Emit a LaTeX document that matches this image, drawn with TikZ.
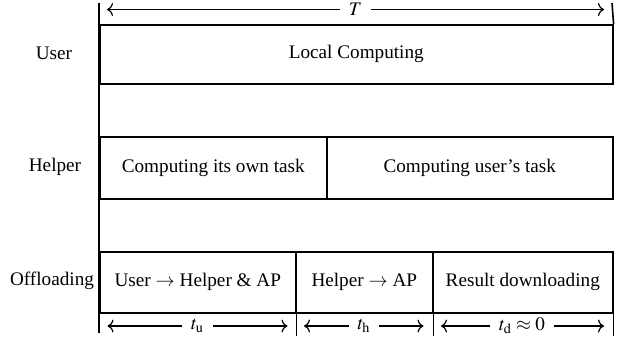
\documentclass[tikz,border=0pt]{standalone}
\usepackage{mathptmx}
\usepackage{fontspec}
\setmainfont{Liberation Serif}
\usetikzlibrary{arrows.meta}
\begin{document}
\begin{tikzpicture}[x=0.5pt,y=-0.5pt,line width=0.8pt,
  every node/.style={font=\fontsize{9.6}{11.5}\selectfont},
  box/.style={draw,anchor=north west,inner sep=0pt},
  rowlab/.style={inner sep=0pt},
  dimlab/.style={inner sep=4pt},
  dimarrow/.style={line width=0.6pt,-{Computer Modern Rightarrow[length=3pt,width=6.5pt]}}]
\useasboundingbox (0,0) rectangle (623,337);
% boxes
\node[box,minimum width=256.5pt,minimum height=29.5pt] (user) at (99,24) {Local Computing};
\node[box,minimum width=113.5pt,minimum height=31pt] (h1) at (99,136) {Computing its own task};
\node[box,minimum width=143pt,minimum height=31pt] (h2) at (326,136) {Computing user's task};
\node[box,minimum width=98pt,minimum height=30.5pt] (o1) at (99,251) {User $\rightarrow$ Helper \& AP};
\node[box,minimum width=68.5pt,minimum height=30.5pt] (o2) at (295,251) {Helper $\rightarrow$ AP};
\node[box,minimum width=90pt,minimum height=30.5pt] (o3) at (432,251) {Result downloading};
% row labels
\node[rowlab] (lu) at (54,53.5) {User};
\node[rowlab] (lh) at (55,167) {Helper};
\node[rowlab] (lo) at (52,281) {Offloading};
% ticks
\coordinate (topl) at (99,3);
\coordinate (botl) at (99,333);
\coordinate (topr) at (612,3);
\draw (topl) -- (botl);
\draw (topr) -- (user.north east);
\draw (o1.south east) -- ++(0,22);
\draw (o2.south east) -- ++(0,22);
\draw (o3.south east) -- ++(0,22);
% T dimension
\node[dimlab] (T) at (355.5,9.5) {$T$};
\coordinate (Tl) at (107,9.5);
\coordinate (Tr) at (604,9.5);
\draw[dimarrow] (T) -- (Tl);
\draw[dimarrow] (T) -- (Tr);
% bottom dimensions
\node[dimlab] (tu) at (197.5,326) {$t_{\mathrm{u}}$};
\coordinate (tul) at (107.5,326);
\coordinate (tur) at (287.5,326);
\draw[dimarrow] (tu) -- (tul);
\draw[dimarrow] (tu) -- (tur);
\node[dimlab] (th) at (364,326) {$t_{\mathrm{h}}$};
\coordinate (thl) at (304,326);
\coordinate (thr) at (423.5,326);
\draw[dimarrow] (th) -- (thl);
\draw[dimarrow] (th) -- (thr);
\node[dimlab] (td) at (522,326) {$t_{\mathrm{d}}\approx 0$};
\coordinate (tdl) at (441,326);
\coordinate (tdr) at (604,326);
\draw[dimarrow] (td) -- (tdl);
\draw[dimarrow] (td) -- (tdr);
\end{tikzpicture}
\end{document}
